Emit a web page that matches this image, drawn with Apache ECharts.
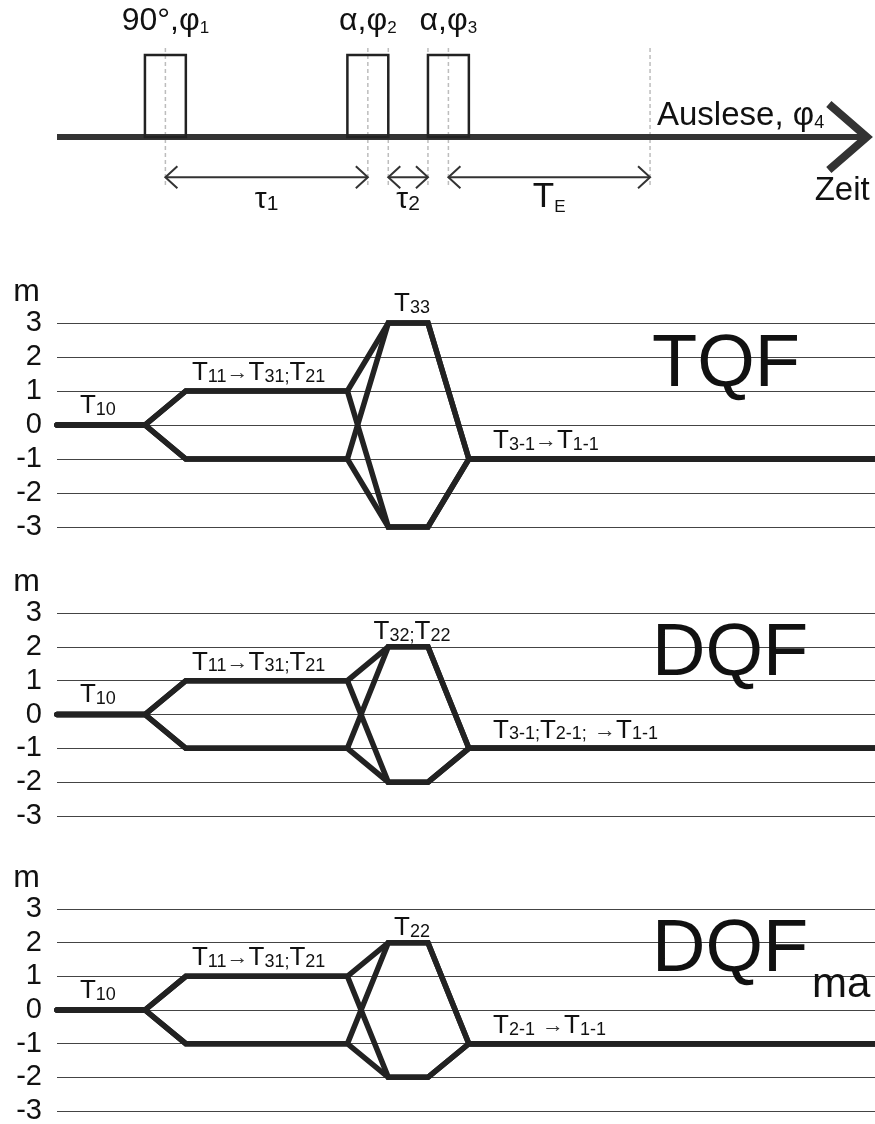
<!DOCTYPE html>
<html>
<head>
<meta charset="utf-8">
<script src="https://cdn.jsdelivr.net/npm/echarts@6/dist/echarts.min.js"></script>
<style>
  html, body { margin: 0; padding: 0; background: #fff; }
  #chart { width: 875px; height: 1124px; }
</style>
</head>
<body>
<div id="chart"></div>
<script>
// ---------- data ----------
// time axis in pulse-length units (one RF pulse = 1)
const breakpoints = [0, 2.15, 3.15, 7.1, 8.1, 9.07, 10.07, 20];
const pulseStarts = [2.15, 7.1, 9.07];
const pulseWidth = 1;
const echoEnd = 14.5;
const axisEnd = 19.8;

const pulseLabels = ['90°,φ_{1}', 'α,φ_{2}', 'α,φ_{3}'];
const intervalLabels = ['τ_{1}', 'τ_{2}', 'T_{E}'];
const readoutLabel = 'Auslese, φ_{4}';
const timeLabel = 'Zeit';

const mMin = -3;
const mMax = 3;

// coherence order m at each breakpoint, one row per pathway
const tqfPaths = [
  [0, 0, 1, 1, 3, 3, -1, -1],
  [0, 0, 1, 1, -3, -3, -1, -1],
  [0, 0, -1, -1, 3, 3, -1, -1],
  [0, 0, -1, -1, -3, -3, -1, -1]
];
const dqfPaths = [
  [0, 0, 1, 1, 2, 2, -1, -1],
  [0, 0, 1, 1, -2, -2, -1, -1],
  [0, 0, -1, -1, 2, 2, -1, -1],
  [0, 0, -1, -1, -2, -2, -1, -1]
];
const dqfmaPaths = [
  [0, 0, 1, 1, 2, 2, -1, -1],
  [0, 0, 1, 1, -2, -2, -1, -1],
  [0, 0, -1, -1, 2, 2, -1, -1],
  [0, 0, -1, -1, -2, -2, -1, -1]
];

const tqfLabels = ['T_{10}', 'T_{11}→T_{31};T_{21}', 'T_{33}', 'T_{3-1}→T_{1-1}'];
const dqfLabels = ['T_{10}', 'T_{11}→T_{31};T_{21}', 'T_{32};T_{22}', 'T_{3-1};T_{2-1}; →T_{1-1}'];
const dqfmaLabels = ['T_{10}', 'T_{11}→T_{31};T_{21}', 'T_{22}', 'T_{2-1} →T_{1-1}'];

const panelTitles = ['TQF', 'DQF', 'DQF'];
const panelSubtitles = ['', '', 'ma'];

// ---------- drawing ----------
const FONT = "'Liberation Sans', Arial, Helvetica, sans-serif";
const INK = '#111';
const PATH = '#222';

// 'T_{10}' -> rich text tokens: b = main, s = subscript, a = arrow, p = punctuation
function toRich(str) {
  let out = '';
  const re = /_\{([^}]*)\}|(→)|(;)|([^_→;]+)/g;
  let m;
  while ((m = re.exec(str))) {
    if (m[1] !== undefined) out += '{s|' + m[1] + '}';
    else if (m[2]) out += '{a|' + m[2] + '}';
    else if (m[3]) out += '{p|' + m[3] + '}';
    else out += '{b|' + m[4] + '}';
  }
  return out;
}
function richStyles(b, s) {
  const mk = (size, va) => ({ fontSize: size, fontFamily: FONT, fill: INK, color: INK, verticalAlign: va || 'bottom' });
  return {
    b: mk(b), s: mk(s), p: mk(s),
    a: Object.assign(mk(Math.round(b * 0.85), 'middle'), { fill: '#333', color: '#333' })
  };
}

// text placed with its baseline at data value v
function textSeries(gi, items) {
  return {
    type: 'custom', xAxisIndex: gi, yAxisIndex: gi, silent: true, clip: false, z: 5,
    data: items.map((it, k) => [it.t, it.v, k]),
    renderItem(params, api) {
      const it = items[api.value(2)];
      const p = api.coord([api.value(0), api.value(1)]);
      const b = it.size, s = it.sub || Math.round(it.size * 0.62);
      return {
        type: 'text', x: p[0], y: p[1] + 0.153 * b,
        style: {
          text: toRich(it.text), rich: richStyles(b, s),
          align: it.align || 'left', verticalAlign: 'bottom'
        }
      };
    }
  };
}

const GRID_LEFT = 57;
const grids = [
  { left: GRID_LEFT, right: 0, top: 55, height: 82 },
  { left: GRID_LEFT, right: 0, top: 323, height: 204 },
  { left: GRID_LEFT, right: 0, top: 613, height: 203 },
  { left: GRID_LEFT, right: 0, top: 909, height: 202 }
].map(g => Object.assign({ outerBoundsMode: 'none', containLabel: false }, g));

const xAxes = grids.map((g, i) => ({
  gridIndex: i, type: 'value', min: 0, max: breakpoints[breakpoints.length - 1], show: false
}));

const yAxes = [{ gridIndex: 0, type: 'value', min: 0, max: 1, show: false }];
for (let i = 1; i <= 3; i++) {
  yAxes.push({
    gridIndex: i, type: 'value', min: mMin, max: mMax, interval: 1,
    name: 'm', nameLocation: 'end', nameGap: 13,
    nameTextStyle: { fontSize: 32, fontFamily: FONT, color: INK, align: 'right', padding: [0, 17, 0, 0] },
    axisLine: { show: false }, axisTick: { show: false },
    axisLabel: { fontSize: 29, fontFamily: FONT, color: INK, margin: 15 },
    splitLine: { show: true, lineStyle: { color: '#444', width: 1.2 } }
  });
}

const series = [];

// ---- pulse sequence ----
const centers = pulseStarts.map(s => s + pulseWidth / 2);
const markers = [centers[0], centers[1], pulseStarts[1] + pulseWidth, pulseStarts[2], centers[2], echoEnd];
const intervals = [
  [centers[0], centers[1]],
  [pulseStarts[1] + pulseWidth, pulseStarts[2]],
  [centers[2], echoEnd]
];

// dashed timing markers
series.push({
  type: 'custom', xAxisIndex: 0, yAxisIndex: 0, silent: true, clip: false, z: 1,
  data: markers.map(t => [t]),
  renderItem(params, api) {
    const a = api.coord([api.value(0), 1.085]);
    const b = api.coord([api.value(0), -0.585]);
    return { type: 'line', shape: { x1: a[0], y1: a[1], x2: b[0], y2: b[1] },
      style: { stroke: '#bdbdbd', lineWidth: 1.5, lineDash: [4, 3] } };
  }
});

// time axis with open arrow head
series.push({
  type: 'custom', xAxisIndex: 0, yAxisIndex: 0, silent: true, clip: false, z: 2,
  data: [[0, axisEnd]],
  renderItem(params, api) {
    const a = api.coord([api.value(0), 0]);
    const b = api.coord([api.value(1), 0]);
    return { type: 'group', children: [
      { type: 'line', shape: { x1: a[0], y1: a[1], x2: b[0] - 3, y2: b[1] },
        style: { stroke: '#333', lineWidth: 6 } },
      { type: 'polyline', shape: { points: [[b[0] - 38, b[1] - 33], [b[0], b[1]], [b[0] - 38, b[1] + 33]] },
        style: { stroke: '#333', lineWidth: 8, fill: null, lineJoin: 'miter' } }
    ] };
  }
});

// RF pulses
series.push({
  type: 'custom', xAxisIndex: 0, yAxisIndex: 0, silent: true, clip: false, z: 3,
  data: pulseStarts.map(s => [s, s + pulseWidth]),
  renderItem(params, api) {
    const a = api.coord([api.value(0), 0]);
    const b = api.coord([api.value(1), 1]);
    return { type: 'rect', shape: { x: a[0], y: b[1], width: b[0] - a[0], height: a[1] - b[1] },
      style: { stroke: '#222', lineWidth: 2.5, fill: null } };
  }
});

// interval arrows
series.push({
  type: 'custom', xAxisIndex: 0, yAxisIndex: 0, silent: true, clip: false, z: 3,
  data: intervals.map(iv => [iv[0], iv[1]]),
  renderItem(params, api) {
    const a = api.coord([api.value(0), -0.49]);
    const b = api.coord([api.value(1), -0.49]);
    const w = 12, h = 11;
    const st = { stroke: '#333', lineWidth: 2, fill: null };
    return { type: 'group', children: [
      { type: 'line', shape: { x1: a[0], y1: a[1], x2: b[0], y2: b[1] }, style: st },
      { type: 'polyline', shape: { points: [[a[0] + w, a[1] - h], [a[0], a[1]], [a[0] + w, a[1] + h]] }, style: st },
      { type: 'polyline', shape: { points: [[b[0] - w, b[1] - h], [b[0], b[1]], [b[0] - w, b[1] + h]] }, style: st }
    ] };
  }
});

// sequence labels
const topTexts = [];
pulseLabels.forEach((txt, i) => topTexts.push({ t: centers[i], v: 1.28, text: txt, size: 32, sub: 17, align: 'center' }));
intervals.forEach((iv, i) => topTexts.push({
  t: (iv[0] + iv[1]) / 2, v: -0.89, text: intervalLabels[i],
  size: i < 2 ? 30 : 35, sub: i < 2 ? 21 : 17, align: 'center'
}));
topTexts.push({ t: 14.67, v: 0.12, text: readoutLabel, size: 33, sub: 18 });
topTexts.push({ t: 19.87, v: -0.80, text: timeLabel, size: 33, align: 'right' });
series.push(textSeries(0, topTexts));

// ---- coherence pathway panels ----
const panels = [
  { paths: tqfPaths, labels: tqfLabels, midV: 3.30 },
  { paths: dqfPaths, labels: dqfLabels, midV: 2.18 },
  { paths: dqfmaPaths, labels: dqfmaLabels, midV: 2.18 }
];

panels.forEach((p, k) => {
  const gi = k + 1;
  p.paths.forEach(levels => {
    series.push({
      type: 'line', xAxisIndex: gi, yAxisIndex: gi, silent: true, clip: false, z: 3,
      symbol: 'none', animation: false,
      data: breakpoints.map((t, j) => [t, levels[j]]),
      lineStyle: { color: PATH, width: 5.5, cap: 'round', join: 'miter' }
    });
  });
  const txt = [
    { t: 0.56, v: 0.30, text: p.labels[0], size: 26, sub: 18 },
    { t: 3.3, v: 1.27, text: p.labels[1], size: 26, sub: 18 },
    { t: 8.68, v: p.midV, text: p.labels[2], size: 26, sub: 18, align: 'center' },
    { t: 10.66, v: -0.74, text: p.labels[3], size: 26, sub: 18 },
    { t: 14.55, v: 1, text: panelTitles[k], size: 74 }
  ];
  if (panelSubtitles[k]) txt.push({ t: 18.46, v: 0.29, text: panelSubtitles[k], size: 42 });
  series.push(textSeries(gi, txt));
});

const chart = echarts.init(document.getElementById('chart'), null, { renderer: 'canvas' });
chart.setOption({
  backgroundColor: '#fff',
  animation: false,
  grid: grids,
  xAxis: xAxes,
  yAxis: yAxes,
  series: series
});
</script>
</body>
</html>
